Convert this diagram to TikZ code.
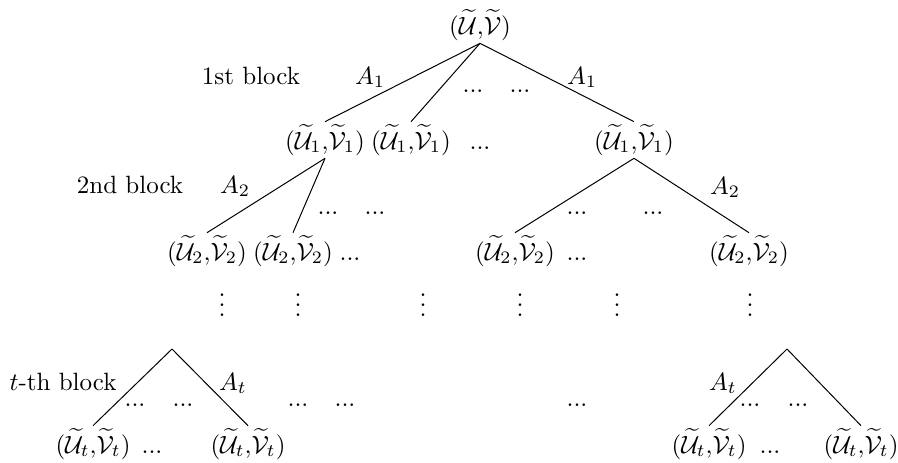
\documentclass[tikz,border=0pt]{standalone}
\usepackage{amsmath,amssymb}
\usepackage{tikz}
\usetikzlibrary{positioning}

\newcommand{\pairUV}[1]{$(\widetilde{\mathcal{U}}#1{,}\widetilde{\mathcal{V}}#1)$}

\begin{document}
\begin{tikzpicture}[x=0.4pt, y=-0.4pt,
  st/.style={inner sep=1pt},
  dd/.style={anchor=base, inner sep=0pt}]
  \useasboundingbox (0,0) rectangle (898,462);
  % root and first block
  \node[st] (r)  at (480,25)  {\pairUV{}};
  \node[st] (a1) at (325,140) {\pairUV{_1}};
  \node[st] (a2) at (411,140) {\pairUV{_1}};
  \node[dd] (a0) at (480,149) {...};
  \node[st] (a3) at (634,140) {\pairUV{_1}};
  \draw (r.south) -- (a1.north);
  \draw (r.south) -- (a2.north);
  \draw (r.south) -- (a3.north);
  \node[dd] (l1)  at (251,84) {1st block};
  \node[dd] (e1a) at (370,84) {$A_1$};
  \node[dd] (e1b) at (582,84) {$A_1$};
  % second block
  \node[st] (b1) at (207,251) {\pairUV{_2}};
  \node[st] (b2) at (293,251) {\pairUV{_2}};
  \node[dd] (b0) at (350,260) {...};
  \node[st] (b3) at (515,251) {\pairUV{_2}};
  \node[dd] (b5) at (577,260) {...};
  \node[st] (b4) at (749,251) {\pairUV{_2}};
  \draw (a1.south) -- (b1.north);
  \draw (a1.south) -- (b2.north);
  \draw (a3.south) -- (b3.north);
  \draw (a3.south) -- (b4.north);
  \node[dd] (l2)  at (130,193) {2nd block};
  \node[dd] (e2a) at (235,193) {$A_2$};
  \node[dd] (e2b) at (725,194) {$A_2$};
  % vertical dots
  \foreach \x [count=\i] in {222,298,423,520,617,750}
    \node (v\i) at (\x,298) {$\vdots$};
  % t-th block
  \coordinate (tl) at (172,349);
  \coordinate (tr) at (787,349);
  \node[st] (c1) at (93,444)  {\pairUV{_t}};
  \node[dd] (c0) at (152,453) {...};
  \node[st] (c2) at (248,444) {\pairUV{_t}};
  \node[st] (c3) at (709,444) {\pairUV{_t}};
  \node[dd] (c5) at (770,453) {...};
  \node[st] (c4) at (861,444) {\pairUV{_t}};
  \draw (tl) -- (c1.north);
  \draw (tl) -- (c2.north);
  \draw (tr) -- (c3.north);
  \draw (tr) -- (c4.north);
  \node[dd] (lt)  at (63,390)  {$t$-th block};
  \node[dd] (eta) at (233,390) {$A_t$};
  \node[dd] (etb) at (723,390) {$A_t$};
  % dots between branches
  \foreach \x/\y [count=\i] in {473/92,520/92,328/214,375/214,577/214,653/214,
      135/406,183/406,298/406,345/406,577/406,750/406,798/406}
    \node[dd] (h\i) at (\x,\y) {...};
\end{tikzpicture}
\end{document}
